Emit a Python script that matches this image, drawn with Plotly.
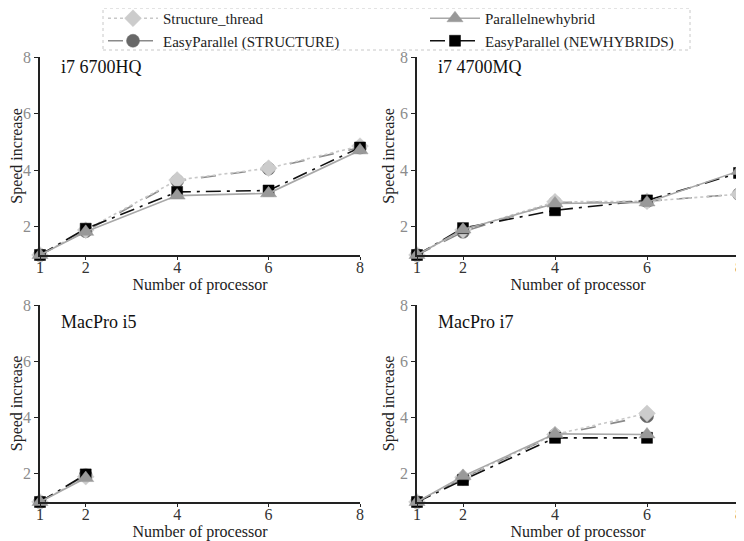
import plotly.graph_objects as go
from plotly.subplots import make_subplots

# processor counts per machine
procs_full = [1, 2, 4, 6, 8]
procs_i5 = [1, 2]
procs_i7 = [1, 2, 4, 6]

panel_names = ["i7 6700HQ", "i7 4700MQ", "MacPro i5", "MacPro i7"]

# speed increase
structure_thread = [
    [1, 1.88, 3.65, 4.07, 4.85],
    [1, 1.88, 2.88, 2.90, 3.15],
    [1, 1.90],
    [1, 1.88, 3.40, 4.15],
]
easy_structure = [
    [1, 1.84, 3.62, 4.05, 4.80],
    [1, 1.82, 2.85, 2.90, 3.15],
    [1, 1.95],
    [1, 1.85, 3.38, 4.05],
]
parallel_newhybrid = [
    [1, 1.82, 3.10, 3.18, 4.70],
    [1, 1.90, 2.82, 2.86, 3.97],
    [1, 1.85],
    [1, 1.92, 3.42, 3.40],
]
easy_newhybrids = [
    [1, 1.93, 3.23, 3.28, 4.80],
    [1, 1.95, 2.58, 2.93, 3.90],
    [1, 1.98],
    [1, 1.78, 3.28, 3.28],
]
panel_x = [procs_full, procs_full, procs_i5, procs_i7]

x_ticks = [1, 2, 4, 6, 8]
y_ticks = [2, 4, 6, 8]

FONT = "Liberation Serif, Times New Roman, serif"

# (name, data, line colour, dash, marker symbol, marker colour, size, legend, rank)
series = [
    ("EasyParallel (STRUCTURE)", easy_structure, "#8a8a8a", "longdash", "circle", "#686868", 13, "legend", 2),
    ("Structure_thread", structure_thread, "#c8c8c8", "dot", "diamond", "#cccccc", 13, "legend", 1),
    ("EasyParallel (NEWHYBRIDS)", easy_newhybrids, "#111111", "longdashdot", "square", "#000000", 11, "legend2", 2),
    ("Parallelnewhybrid", parallel_newhybrid, "#a8a8a8", "solid", "triangle-up", "#999999", 14, "legend2", 1),
]

fig = make_subplots(rows=2, cols=2)

for p in range(4):
    r, c = p // 2 + 1, p % 2 + 1
    for name, data, lc, dash, sym, mc, size, leg, rank in series:
        fig.add_trace(go.Scatter(
            x=panel_x[p], y=data[p], name=name, mode="lines+markers",
            line=dict(color=lc, width=1.6, dash=dash),
            marker=dict(symbol=sym, color=mc, size=size,
                        line=dict(color=mc, width=0.5)),
            cliponaxis=False, showlegend=(p == 0), legend=leg, legendrank=rank,
        ), row=r, col=c)

# page body adds 8px, so work in screen pixels minus 8
W, H, OFF = 736, 533, 8


def px(v):
    return (v - OFF) / W


def py(v):
    return 1 - (v - OFF) / H


x_dom = [[px(40), px(360)], [px(417), px(739)]]
y_dom = [[py(255), py(57)], [py(502), py(305)]]
label_drop = [10, 17]

for p in range(4):
    r, c = p // 2 + 1, p % 2 + 1
    fig.update_xaxes(
        domain=x_dom[c - 1], range=[1, 8], tickvals=x_ticks,
        showgrid=False, zeroline=False, showline=True, linecolor="#222",
        linewidth=1.5, ticks="outside", ticklen=3, tickcolor="#222",
        ticklabelstandoff=-6,
        tickfont=dict(family=FONT, size=16, color="#333"),
        title=dict(text="Number of processor", standoff=0,
                   font=dict(family=FONT, size=16, color="#222")),
        automargin=False, row=r, col=c)
    fig.update_yaxes(
        domain=y_dom[r - 1], range=[1, 8], tickvals=y_ticks,
        showgrid=False, zeroline=False, showline=True, linecolor="#222",
        linewidth=1.5, ticks="outside", ticklen=4, tickcolor="#222",
        tickfont=dict(family=FONT, size=16, color="#8c8c8c"),
        title=dict(text="Speed increase", standoff=1,
                   font=dict(family=FONT, size=16, color="#222")),
        automargin=False, row=r, col=c)
    fig.add_annotation(
        text=panel_names[p], xref="paper", yref="paper",
        x=x_dom[c - 1][0] + 19 / W, y=y_dom[r - 1][1] - label_drop[r - 1] / H,
        xanchor="left", yanchor="middle", showarrow=False,
        font=dict(family=FONT, size=18, color="#111"))

# dotted legend frame
fig.add_shape(type="rect", xref="paper", yref="paper",
              x0=px(103), x1=px(690), y0=py(50), y1=1,
              line=dict(color="#c8c8c8", width=1, dash="dot"))

leg_style = dict(yanchor="top", xanchor="left", y=1 + 6 / H,
                 itemwidth=50,
                 font=dict(family=FONT, size=15, color="#222"),
                 bgcolor="rgba(0,0,0,0)", tracegroupgap=0)

fig.update_layout(
    width=W, height=H,
    margin=dict(l=0, r=0, t=0, b=0, autoexpand=False),
    paper_bgcolor="white", plot_bgcolor="white",
    font=dict(family=FONT, size=15, color="#222"),
    legend=dict(x=px(103), **leg_style),
    legend2=dict(x=px(425), **leg_style),
)

fig.write_html("out.html")
